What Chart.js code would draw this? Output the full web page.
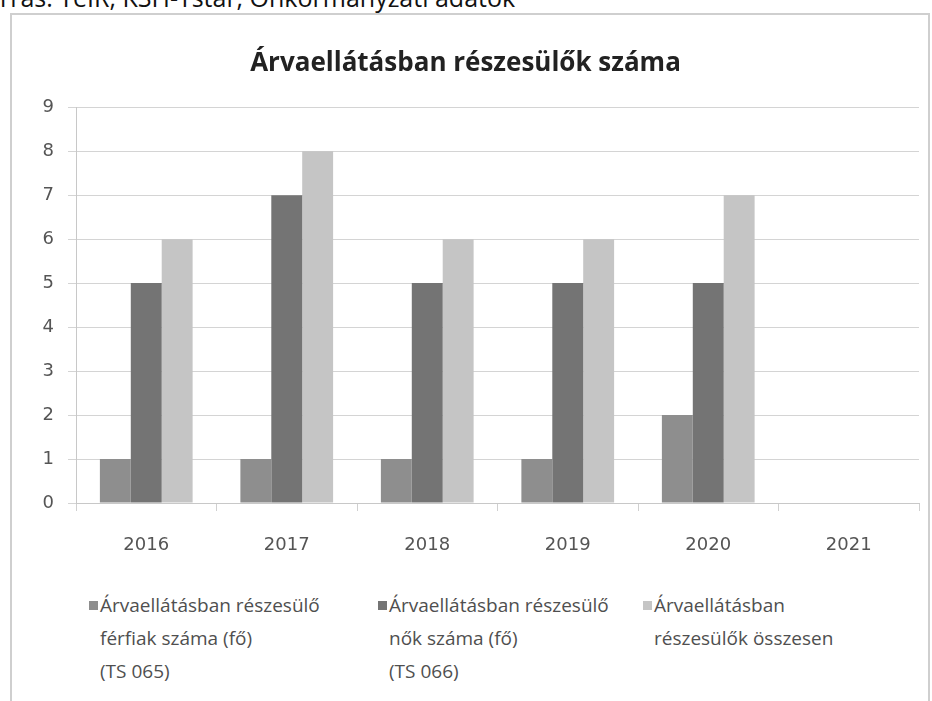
<!DOCTYPE html>
<html>
<head>
<meta charset="utf-8">
<script src="https://cdn.jsdelivr.net/npm/chart.js@4/dist/chart.umd.min.js"></script>
<style>
    body { margin: 0; background: #fff; width: 932px; height: 701px; overflow: hidden; position: relative; }
    #source { position: absolute; left: -28px; top: -20px; font-family: 'Open Sans', sans-serif; font-size: 25px; color: #111; white-space: nowrap; }
    #box { position: absolute; left: 10px; top: 13px; width: 916px; height: 720px; border: 2px solid #cfcfcf; }
    #chart-wrap { position: absolute; left: 0; top: 0; width: 916px; height: 560px; }
    #legend { position: absolute; left: 0; top: 574px; width: 916px; font-family: 'Open Sans', sans-serif; font-size: 19px; letter-spacing: 0px; color: #4f4f4f; }
    .leg-item { position: absolute; top: 0; line-height: 33px; }
    .leg-box { position: absolute; left: -11px; top: 12px; width: 9px; height: 9px; }
</style>
</head>
<body>
<div id="source">Forrás: TeIR, KSH-Tstar, Önkormányzati adatok</div>
<div id="box">
    <div id="chart-wrap"><canvas id="chart"></canvas></div>
    <div id="legend"></div>
</div>
<script>
const chartTitle = 'Árvaellátásban részesülők száma';
const years = ['2016', '2017', '2018', '2019', '2020', '2021'];
const ferfiak = [1, 1, 1, 1, 2, null];
const nok = [5, 7, 5, 5, 5, null];
const osszesen = [6, 8, 6, 6, 7, null];
const seriesLabels = [
    ['Árvaellátásban részesülő', 'férfiak száma (fő)', '(TS 065)'],
    ['Árvaellátásban részesülő', 'nők száma (fő)', '(TS 066)'],
    ['Árvaellátásban', 'részesülők összesen']
];
const seriesColors = ['#8e8e8e', '#747474', '#c5c5c5'];
const legendLeft = [88, 377, 642];

const ctx = document.getElementById('chart').getContext('2d');
const chart = new Chart(ctx, {
    type: 'bar',
    data: {
        labels: years,
        datasets: [ferfiak, nok, osszesen].map((d, i) => ({
            label: seriesLabels[i].join(' '),
            data: d,
            backgroundColor: seriesColors[i],
            borderWidth: 0,
            barPercentage: 1,
            categoryPercentage: 0.66
        }))
    },
    options: {
        responsive: true,
        maintainAspectRatio: false,
        animation: false,
        layout: { padding: { left: 0, right: 9, top: 0, bottom: 10 } },
        plugins: {
            legend: { display: false },
            tooltip: { enabled: false },
            title: {
                display: true,
                text: chartTitle,
                color: '#222',
                font: { family: 'Open Sans', size: 26, weight: 'bold' },
                padding: { top: 33, bottom: 28 }
            }
        },
        scales: {
            x: {
                grid: { offset: true, drawOnChartArea: false, drawTicks: true, tickLength: 8, color: '#d0d0d0' },
                border: { display: true, color: '#c8c8c8', width: 1 },
                ticks: { color: '#555', font: { family: 'DejaVu Sans', size: 18 }, padding: 24 },
                afterFit: s => { s.height = 62; }
            },
            y: {
                min: 0, max: 9,
                grid: { color: '#d4d4d4', tickLength: 8, drawTicks: true },
                border: { display: true, color: '#c8c8c8', width: 1 },
                ticks: { stepSize: 1, color: '#555', font: { family: 'DejaVu Sans', size: 18 }, padding: 14 },
                afterFit: s => { s.width = 64; }
            }
        }
    }
});

// legend in HTML so the labels can wrap on several lines like the original
document.getElementById('legend').innerHTML = seriesLabels.map((lines, i) => `
    <div class="leg-item" style="left:${legendLeft[i]}px;">
        <span class="leg-box" style="background:${seriesColors[i]};"></span>
        ${lines.join('<br>')}
    </div>
`).join('');
</script>
</body>
</html>
